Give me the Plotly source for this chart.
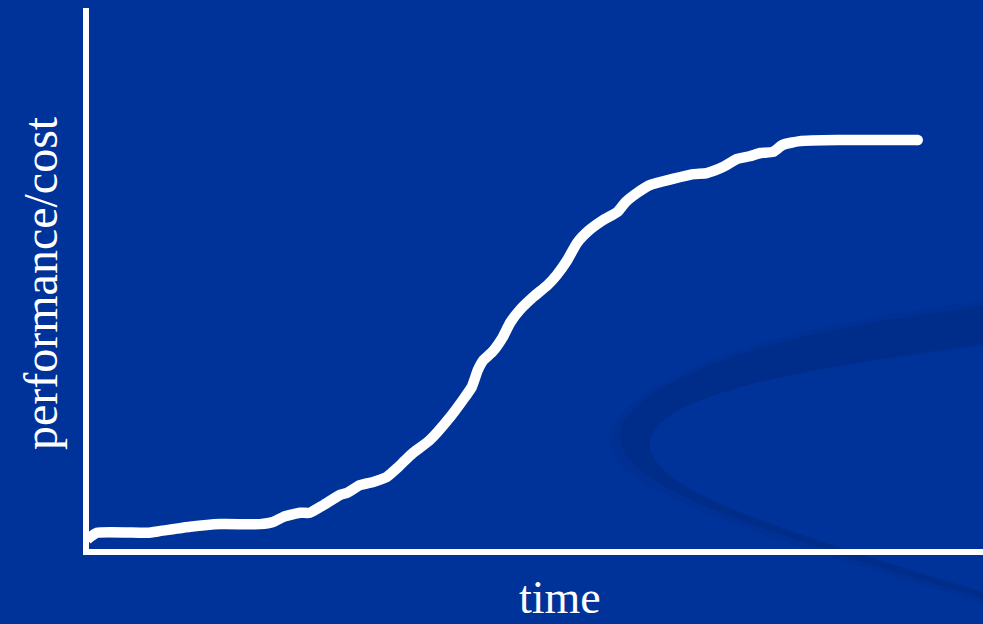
import plotly.graph_objects as go

# Growth curve: performance/cost over time (arbitrary units, 0-100 on both axes)
time = [-0.2, 0.9, 6.5, 7.9, 11.3, 14.7, 19.1, 20.6, 21.7, 23.6, 24.7, 26.2, 28.1,
        28.9, 30.3, 31.8, 33.3, 34.5, 35.3, 36.2, 38.1, 40.4, 41.8, 42.8, 43.5,
        44.1, 45.1, 46.3, 47.1, 48.2, 49.7, 51.3, 52.3, 53.5, 54.6, 56.0, 57.5,
        59.1, 60.0, 61.3, 62.8, 65.3, 67.6, 69.1, 70.9, 72.5, 73.9, 75.1, 76.5,
        77.6, 79.5, 84.0, 92.7]
performance = [1.8, 3.0, 3.0, 3.3, 4.1, 4.6, 4.6, 5.0, 5.9, 6.7, 6.7, 8.1, 10.0,
               10.4, 11.8, 12.4, 13.3, 15.0, 16.3, 17.7, 20.1, 24.4, 27.5, 29.9, 33.1,
               34.9, 36.4, 39.2, 41.8, 44.2, 46.6, 48.8, 50.6, 53.4, 56.6, 59.0, 60.8,
               62.3, 64.1, 65.8, 67.3, 68.4, 69.3, 69.5, 70.6, 72.1, 72.6, 73.2, 73.4,
               74.7, 75.4, 75.6, 75.6]

x_title = "time"
y_title = "performance/cost"

W, H = 983, 624
M_L, M_R, M_T, M_B = 89, 0, 8, 75
BG = "#003399"
FONT = "Liberation Serif, Times New Roman, serif"


def to_paper(px, py):
    """Pixel position on the page -> paper coordinates of the plot area."""
    pw = W - M_L - M_R
    ph = H - M_T - M_B
    return (px - M_L) / pw, (H - M_B - py) / ph


def path(segments):
    out = []
    for cmd, pts in segments:
        coords = " ".join("%.4f,%.4f" % to_paper(*p) for p in pts)
        out.append(cmd + coords)
    return " ".join(out) + " Z"


# decorative swoosh in the lower right background
swoosh_outer = path([
    ("M", [(990, 300)]),
    ("C", [(820, 320), (645, 362), (610, 430)]),
    ("C", [(595, 480), (700, 520), (990, 605)]),
    ("L", [(990, 596)]),
    ("C", [(780, 530), (640, 490), (650, 440)]),
    ("C", [(665, 390), (800, 370), (990, 345)]),
])
swoosh_main = path([
    ("M", [(990, 306)]),
    ("C", [(820, 325), (655, 365), (622, 425)]),
    ("C", [(605, 475), (700, 515), (990, 600)]),
    ("L", [(990, 594)]),
    ("C", [(780, 530), (645, 490), (650, 440)]),
    ("C", [(660, 395), (800, 368), (990, 343)]),
])

fig = go.Figure()
fig.add_trace(go.Scatter(
    x=time, y=performance, mode="lines",
    line=dict(color="white", width=10.5, shape="spline", smoothing=0.5),
    hoverinfo="skip", showlegend=False,
))
# round end caps
fig.add_trace(go.Scatter(
    x=[time[0], time[-1]], y=[performance[0], performance[-1]], mode="markers",
    marker=dict(color="white", size=10.5), cliponaxis=False,
    hoverinfo="skip", showlegend=False,
))

fig.update_layout(
    width=W, height=H,
    margin=dict(l=M_L, r=M_R, t=M_T, b=M_B),
    paper_bgcolor=BG, plot_bgcolor=BG,
    xaxis=dict(range=[0, 100], showline=True, linecolor="white", linewidth=6,
               showgrid=False, zeroline=False, showticklabels=False, ticks=""),
    yaxis=dict(range=[0, 100], showline=True, linecolor="white", linewidth=6,
               showgrid=False, zeroline=False, showticklabels=False, ticks=""),
    shapes=[
        dict(type="path", xref="paper", yref="paper", path=swoosh_outer,
             fillcolor="rgba(0,30,110,0.13)", line=dict(width=0), layer="below"),
        dict(type="path", xref="paper", yref="paper", path=swoosh_main,
             fillcolor="rgba(0,30,110,0.25)", line=dict(width=0), layer="below"),
    ],
    annotations=[
        dict(text=x_title, xref="paper", yref="paper",
             x=to_paper(560, 0)[0], y=to_paper(0, 597)[1],
             xanchor="center", yanchor="middle", showarrow=False,
             font=dict(family=FONT, size=46, color="white")),
        dict(text=y_title, xref="paper", yref="paper", textangle=-90,
             x=to_paper(40, 0)[0], y=to_paper(0, 283)[1],
             xanchor="center", yanchor="middle", showarrow=False,
             font=dict(family=FONT, size=48, color="white")),
    ],
)

fig.write_html("out.html")
